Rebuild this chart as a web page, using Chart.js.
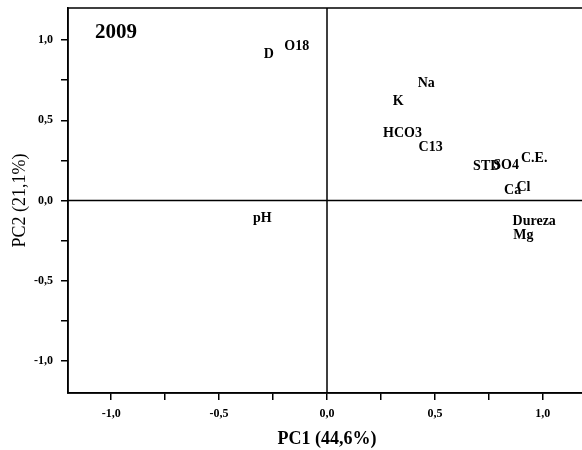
<!DOCTYPE html>
<html>
<head>
<meta charset="utf-8">
<script src="https://cdn.jsdelivr.net/npm/chart.js@4/dist/chart.umd.min.js"></script>
<style>
  html, body { margin: 0; padding: 0; background: #fff; overflow: hidden; }
  #wrap { width: 590px; height: 450px; position: relative; }
</style>
</head>
<body>
<div id="wrap"><canvas id="pca"></canvas></div>
<script>
// loadings (PC1, PC2)
const variables = ["D", "O18", "Na", "K", "HCO3", "C13", "STD", "SO4", "C.E.", "Ca", "Cl", "Dureza", "Mg", "pH"];
const pc1 = [-0.27, -0.14, 0.46, 0.33, 0.35, 0.48, 0.74, 0.83, 0.96, 0.86, 0.91, 0.96, 0.91, -0.30];
const pc2 = [0.91, 0.96, 0.73, 0.62, 0.42, 0.33, 0.21, 0.22, 0.26, 0.06, 0.08, -0.13, -0.22, -0.11];
const panelTag = "2009";
const xTitle = "PC1 (44,6%)";
const yTitle = "PC2 (21,1%)";

const serif = "'Liberation Serif', 'DejaVu Serif', serif";

// labels are drawn where the points are (no markers)
const labelPlugin = {
  id: "labels",
  afterDatasetsDraw(chart) {
    const ctx = chart.ctx;
    const meta = chart.getDatasetMeta(0);
    ctx.save();
    ctx.fillStyle = "#000";
    ctx.font = "bold 14px " + serif;
    ctx.textAlign = "center";
    ctx.textBaseline = "middle";
    meta.data.forEach(function(pt, i) {
      ctx.fillText(variables[i], pt.x, pt.y);
    });
    ctx.restore();
  }
};

// frame + zero lines
const framePlugin = {
  id: "frame",
  beforeDatasetsDraw(chart) {
    const ctx = chart.ctx;
    const a = chart.chartArea;
    const xs = chart.scales.x, ys = chart.scales.y;
    ctx.save();
    ctx.strokeStyle = "#000";
    ctx.lineWidth = 1.5;
    ctx.strokeRect(a.left, a.top, a.right - a.left, a.bottom - a.top);
    const x0 = xs.getPixelForValue(0), y0 = ys.getPixelForValue(0);
    ctx.beginPath();
    ctx.moveTo(x0, a.top); ctx.lineTo(x0, a.bottom);
    ctx.moveTo(a.left, y0); ctx.lineTo(a.right, y0);
    ctx.stroke();
    ctx.font = "bold 21px " + serif;
    ctx.fillStyle = "#000";
    ctx.textAlign = "left";
    ctx.textBaseline = "middle";
    ctx.fillText(panelTag, a.left + 27, a.top + 25);
    ctx.restore();
  }
};

function tickLabel(v) {
  if (Math.abs(Math.round(v * 2) - v * 2) > 1e-6) return "";
  return v.toFixed(1).replace(".", ",");
}

new Chart(document.getElementById("pca"), {
  type: "scatter",
  data: {
    datasets: [{
      data: pc1.map((x, i) => ({ x: x, y: pc2[i] })),
      pointRadius: 0,
      pointHoverRadius: 0
    }]
  },
  options: {
    responsive: true,
    maintainAspectRatio: false,
    animation: false,
    events: [],
    layout: { padding: { top: 8, right: 4, left: 0, bottom: 0 } },
    plugins: { legend: { display: false }, tooltip: { enabled: false } },
    scales: {
      x: {
        type: "linear",
        min: -1.2, max: 1.2,
        afterBuildTicks(scale) {
          scale.ticks = [-1, -0.75, -0.5, -0.25, 0, 0.25, 0.5, 0.75, 1].map(v => ({ value: v }));
        },
        afterFit(scale) {
          scale.height = 57;
          scale.paddingLeft = 0;
          scale.paddingRight = 0;
        },
        grid: { drawOnChartArea: false, drawTicks: true, tickLength: 7, color: "#000", lineWidth: 1.5 },
        border: { display: true, color: "#000", width: 1.5 },
        ticks: {
          color: "#000",
          padding: 7,
          maxRotation: 0,
          autoSkip: false,
          font: { family: serif, size: 12, weight: "bold" },
          callback: tickLabel
        },
        title: {
          display: true,
          text: xTitle,
          color: "#000",
          padding: { top: 3, bottom: 0 },
          font: { family: serif, size: 18, weight: "bold" }
        }
      },
      y: {
        type: "linear",
        min: -1.2, max: 1.2,
        afterBuildTicks(scale) {
          scale.ticks = [-1, -0.75, -0.5, -0.25, 0, 0.25, 0.5, 0.75, 1].map(v => ({ value: v }));
        },
        afterFit(scale) {
          scale.width = 68;
          scale.paddingTop = 0;
          scale.paddingBottom = 0;
        },
        grid: { drawOnChartArea: false, drawTicks: true, tickLength: 7, color: "#000", lineWidth: 1.5 },
        border: { display: true, color: "#000", width: 1.5 },
        ticks: {
          color: "#000",
          padding: 8,
          autoSkip: false,
          font: { family: serif, size: 12, weight: "bold" },
          callback: tickLabel
        },
        title: {
          display: true,
          text: yTitle,
          color: "#000",
          padding: { top: 9, bottom: 0 },
          font: { family: serif, size: 18, weight: "normal" }
        }
      }
    }
  },
  plugins: [framePlugin, labelPlugin]
});
</script>
</body>
</html>
